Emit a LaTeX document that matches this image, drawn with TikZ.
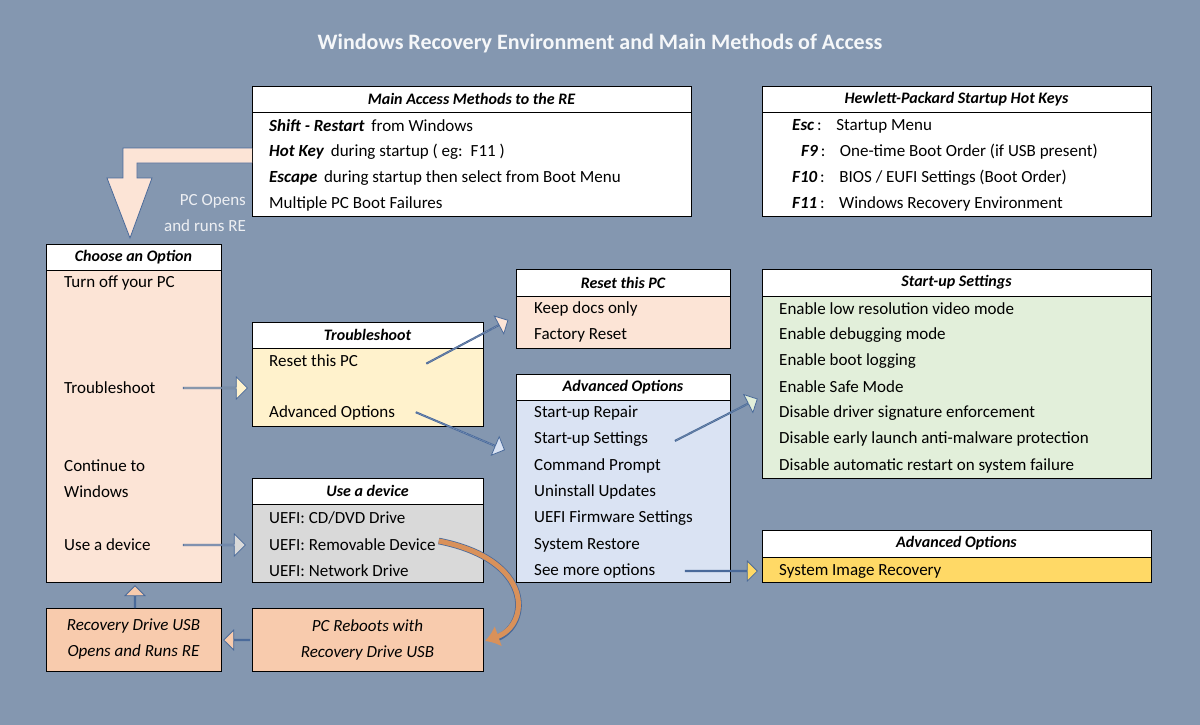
\documentclass[tikz,border=0pt]{standalone}
\usepackage{fontspec}
\setmainfont{Carlito}
\usetikzlibrary{shapes.arrows,arrows.meta}
\definecolor{bgblue}{HTML}{8497B0}
\definecolor{peach}{HTML}{FCE4D6}
\definecolor{peachdk}{HTML}{F8CBAD}
\definecolor{cream}{HTML}{FFF2CC}
\definecolor{iceblue}{HTML}{DAE3F3}
\definecolor{mint}{HTML}{E2EFDA}
\definecolor{gold}{HTML}{FFD966}
\definecolor{greybox}{HTML}{D9D9D9}
\definecolor{edgeblue}{HTML}{4A6A9A}
\definecolor{rust}{HTML}{D9915A}
\tikzset{
  hdr/.style={draw=black,fill=white,inner sep=0pt,font=\fontsize{16}{18}\selectfont\bfseries\itshape},
  item/.style={anchor=west,inner sep=0pt,font=\fontsize{17}{19}\selectfont},
  bodybox/.style={draw=black,line width=0.8pt},
  blockarrow/.style={single arrow,draw=edgeblue,line width=0.8pt,minimum width=26pt,
    single arrow head extend=6pt,inner sep=0pt,minimum height=#1},
}
\newcommand{\panel}[6]{% x1,x2,yhead,ybody,yend,fill
  \fill[#6] (#1,#4) rectangle (#2,#5);
  \draw[bodybox] (#1,#3) rectangle (#2,#5);
}
\begin{document}
\begin{tikzpicture}[x=1pt,y=-1pt]
  \fill[bgblue] (0,0) rectangle (1200,725);
  \useasboundingbox (0,0) rectangle (1200,725);

  \node (title) [text=white!92!bgblue,font=\fontsize{22}{24}\selectfont\bfseries] at (600,44)
    {Windows Recovery Environment and Main Methods of Access};

  % main access methods
  \panel{252}{691}{86}{112}{216}{white}
  \node (mainhdr) [hdr,minimum width=439pt,minimum height=26pt] at (471.5,99) {Main Access Methods to the RE};
  \node (m1) [item] at (269,126) {\textbf{\itshape Shift - Restart}\, from Windows};
  \node (m2) [item] at (269,152) {\textbf{\itshape Hot Key}\, during startup ( eg:\, F11 )};
  \node (m3) [item] at (269,178) {\textbf{\itshape Escape}\, during startup then select from Boot Menu};
  \node (m4) [item] at (269,204) {Multiple PC Boot Failures};

  % hot keys
  \panel{762}{1151}{86}{112}{216}{white}
  \node (hphdr) [hdr,minimum width=389pt,minimum height=26pt] at (956.5,99) {Hewlett-Packard Startup Hot Keys};
  \node (h1) [item] at (792,126) {\textbf{\itshape Esc}\,:\;\; Startup Menu};
  \node (h2) [item] at (801,152) {\textbf{\itshape F9}\,:\;\; One-time Boot Order (if USB present)};
  \node (h3) [item] at (792,178) {\textbf{\itshape F10}\,:\;\; BIOS / EUFI Settings (Boot Order)};
  \node (h4) [item] at (792,204) {\textbf{\itshape F11}\,:\;\; Windows Recovery Environment};

  % choose an option
  \panel{46}{221}{244}{270}{582}{peach}
  \node (chhdr) [hdr,minimum width=175pt,minimum height=26pt] at (133.5,257) {Choose an Option};
  \node (c1) [item] at (64,283) {Turn off your PC};
  \node (c2) [item] at (64,388) {Troubleshoot};
  \node (c3) [item] at (64,466) {Continue to};
  \node (c3b) [item] at (64,492) {Windows};
  \node (c4) [item] at (64,545) {Use a device};

  % troubleshoot
  \panel{252}{483}{322}{348}{426}{cream}
  \node (trhdr) [hdr,minimum width=231pt,minimum height=26pt] at (367.5,335) {Troubleshoot};
  \node (t1) [item] at (269,361) {Reset this PC};
  \node (t2) [item] at (269,413) {Advanced Options};

  % reset this pc
  \panel{516}{730}{269}{296}{348}{peach}
  \node (rshdr) [hdr,minimum width=214pt,minimum height=27pt] at (623,282.5) {Reset this PC};
  \node (r1) [item] at (534,309) {Keep docs only};
  \node (r2) [item] at (534,335) {Factory Reset};

  % advanced options
  \panel{516}{730}{374}{400}{582}{iceblue}
  \node (adhdr) [hdr,minimum width=214pt,minimum height=26pt] at (623,387) {Advanced Options};
  \node (a1) [item] at (534,413) {Start-up Repair};
  \node (a2) [item] at (534,439) {Start-up Settings};
  \node (a3) [item] at (534,466) {Command Prompt};
  \node (a4) [item] at (534,492) {Uninstall Updates};
  \node (a5) [item] at (534,518) {UEFI Firmware Settings};
  \node (a6) [item] at (534,545) {System Restore};
  \node (a7) [item] at (534,571) {See more options};

  % start-up settings
  \panel{762}{1151}{269}{296}{478}{mint}
  \node (sshdr) [hdr,minimum width=389pt,minimum height=27pt] at (956.5,282.5) {Start-up Settings};
  \node (s1) [item] at (779,309) {Enable low resolution video mode};
  \node (s2) [item] at (779,335) {Enable debugging mode};
  \node (s3) [item] at (779,361) {Enable boot logging};
  \node (s4) [item] at (779,387) {Enable Safe Mode};
  \node (s5) [item] at (779,413) {Disable driver signature enforcement};
  \node (s6) [item] at (779,439) {Disable early launch anti-malware protection};
  \node (s7) [item] at (779,466) {Disable automatic restart on system failure};

  % advanced options 2
  \panel{762}{1151}{530}{557}{582}{gold}
  \node (a2hdr) [hdr,minimum width=389pt,minimum height=27pt] at (956.5,543.5) {Advanced Options};
  \node (x1) [item] at (779,571) {System Image Recovery};

  % use a device
  \panel{252}{483}{478}{504}{582}{greybox}
  \node (udhdr) [hdr,minimum width=231pt,minimum height=26pt] at (367.5,491) {Use a device};
  \node (u1) [item] at (269,518) {UEFI: CD/DVD Drive};
  \node (u2) [item] at (269,545) {UEFI: Removable Device};
  \node (u3) [item] at (269,571) {UEFI: Network Drive};

  % recovery usb boxes
  \node (usb) [draw=black,line width=0.8pt,fill=peachdk,minimum width=175pt,minimum height=63pt,
    align=center,font=\fontsize{17}{26}\selectfont\itshape] at (133.5,639.5)
    {Recovery Drive USB\\Opens and Runs RE};
  \node (reboot) [draw=black,line width=0.8pt,fill=peachdk,minimum width=231pt,minimum height=63pt,
    align=center,font=\fontsize{17}{26}\selectfont\itshape] at (367.5,639.5)
    {PC Reboots with\\Recovery Drive USB};

  % access arrow
  \fill[peach] (252,148) -- (123,148) -- (123,178) -- (107,178) -- (130,238) -- (152,178)
    -- (137,178) -- (137,163) -- (252,163) -- cycle;
  \draw[edgeblue,line width=0.8pt] (252,148) -- (123,148) -- (123,178) -- (107,178) -- (130,238)
    -- (152,178) -- (137,178) -- (137,163) -- (252,163);
  \node (opens) [text=white!85!bgblue,align=right,font=\fontsize{17}{26}\selectfont] at (205,213)
    {PC Opens\\and runs RE};

  % block arrows
  \node (ar1) [blockarrow=64pt,fill=cream,minimum width=22pt] at (215,388) {};
  \node (ar2) [blockarrow=62pt,fill=greybox,minimum width=22pt] at (214,545) {};
  \node (ar3) [blockarrow=22pt,fill=peachdk,minimum width=20pt,rotate=90] at (135,597) {};
  \node (ar4) [blockarrow=26pt,fill=peachdk,minimum width=20pt,rotate=180] at (237,640) {};
  \node (ar5) [blockarrow=92pt,fill=peach,minimum width=20pt,rotate=28] at (467,342) {};
  \node (ar6) [blockarrow=96pt,fill=iceblue,minimum width=20pt,rotate=-23] at (460,431) {};
  \node (ar7) [blockarrow=92pt,fill=mint,minimum width=20pt,rotate=27] at (716,420) {};
  \node (ar8) [blockarrow=72pt,fill=gold,minimum width=20pt] at (721,571) {};

  % curved usb arrow
  \draw[edgeblue,line width=6.6pt] (u2.east) ++(3,-4) .. controls (535,560) and (530,625) .. (497,638);
  \draw[rust,line width=5pt,-{Latex[length=14pt,width=22pt]}] (u2.east) ++(3,-4)
    .. controls (535,560) and (530,625) .. (485,641);
\end{tikzpicture}
\end{document}
